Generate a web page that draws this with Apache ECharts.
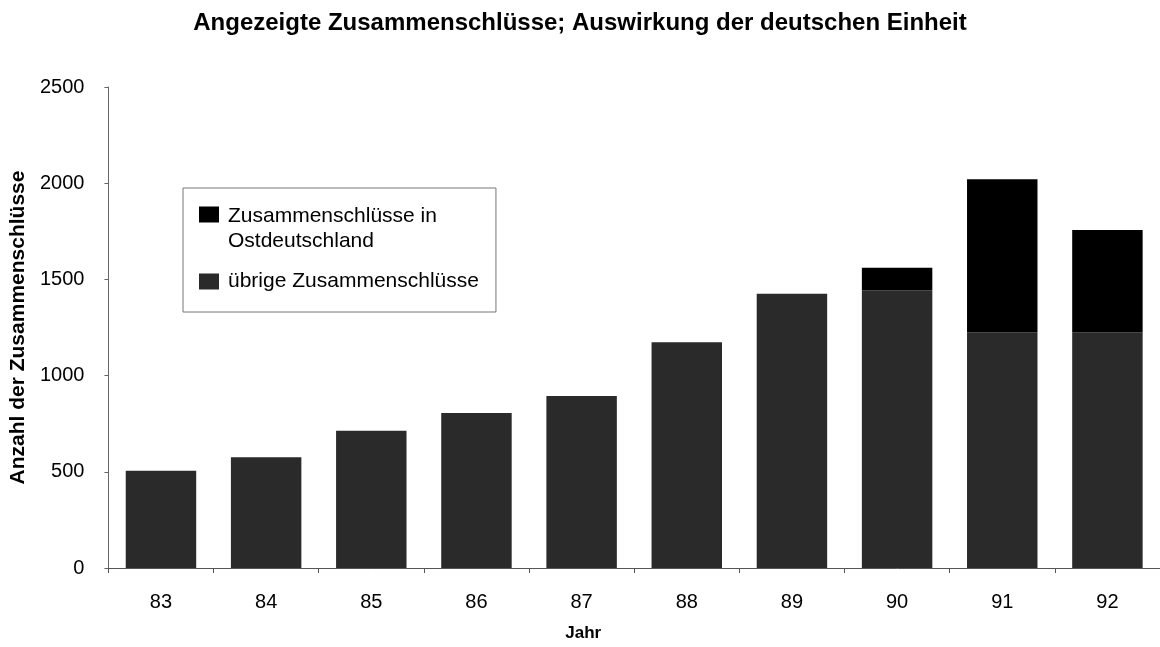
<!DOCTYPE html>
<html>
<head>
<meta charset="utf-8">
<script src="https://cdn.jsdelivr.net/npm/echarts@6/dist/echarts.min.js"></script>
<style>
html,body{margin:0;padding:0;background:#fff;}
#chart{width:1160px;height:647px;}
</style>
</head>
<body>
<div id="chart"></div>
<script>
const categories = ['83','84','85','86','87','88','89','90','91','92'];
const uebrige = [505, 575, 713, 806, 894, 1173, 1426, 1442, 1225, 1225];
const ost = [0, 0, 0, 0, 0, 0, 0, 118, 796, 532];
const yTicks = [0, 500, 1000, 1500, 2000, 2500];

const nameOst = 'Zusammenschlüsse in\nOstdeutschland';
const nameUeb = 'übrige Zusammenschlüsse';
const FONT = '"Liberation Sans", Arial, Helvetica, sans-serif';

const chart = echarts.init(document.getElementById('chart'), null, {renderer: 'canvas'});
chart.setOption({
  backgroundColor: '#fff',
  animation: false,
  title: {
    text: 'Angezeigte Zusammenschlüsse; Auswirkung der deutschen Einheit',
    left: 'center',
    top: 6,
    textStyle: {fontFamily: FONT, fontSize: 24, fontWeight: 'bold', color: '#000'}
  },
  legend: {
    orient: 'vertical',
    left: 183,
    top: 188,
    padding: [16, 17, 8, 16],
    borderColor: '#777',
    borderWidth: 1,
    itemGap: 5,
    itemWidth: 20,
    itemHeight: 45,
    selectedMode: false,
    textStyle: {fontFamily: FONT, fontSize: 21, color: '#000', lineHeight: 25, padding: [0, 0, 0, 4]},
    data: [
      {name: nameOst, icon: 'path://M0,0L20,0L20,16L0,16Z M0,45L20,45'},
      {name: nameUeb, icon: 'path://M0,0L20,0 M0,14.5L20,14.5L20,30.5L0,30.5Z M0,45L20,45'}
    ]
  },
  grid: {left: 108, right: 0, top: 87, bottom: 78},
  xAxis: {
    type: 'category',
    data: categories,
    name: 'Jahr',
    nameLocation: 'middle',
    nameGap: 57,
    nameTextStyle: {fontFamily: FONT, fontSize: 17, fontWeight: 'bold', color: '#000', padding: [0, 102, 0, 0]},
    axisLine: {lineStyle: {color: '#555', width: 1}},
    axisTick: {show: true, length: 5, lineStyle: {color: '#555'}},
    axisLabel: {fontFamily: FONT, fontSize: 20, color: '#000', margin: 24}
  },
  yAxis: {
    type: 'value',
    min: yTicks[0],
    max: yTicks[yTicks.length - 1],
    interval: yTicks[1] - yTicks[0],
    name: 'Anzahl der Zusammenschlüsse',
    nameLocation: 'middle',
    nameRotate: 90,
    nameGap: 79,
    nameTextStyle: {fontFamily: FONT, fontSize: 21, fontWeight: 'bold', color: '#000'},
    axisLine: {show: true, lineStyle: {color: '#666', width: 1}},
    axisTick: {show: true, length: 4, lineStyle: {color: '#666'}},
    splitLine: {show: false},
    axisLabel: {fontFamily: FONT, fontSize: 20, color: '#000', margin: 24, formatter: function (v) { return String(v); }}
  },
  series: [
    {
      name: nameUeb,
      type: 'bar',
      stack: 'total',
      data: uebrige,
      barCategoryGap: '33%',
      itemStyle: {color: '#2a2a2a'}
    },
    {
      name: nameOst,
      type: 'bar',
      stack: 'total',
      data: ost,
      barCategoryGap: '33%',
      itemStyle: {color: '#000'}
    }
  ]
});
</script>
</body>
</html>
